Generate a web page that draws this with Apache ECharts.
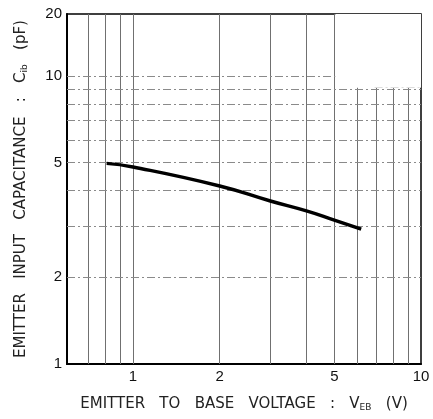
<!DOCTYPE html>
<html>
<head>
<meta charset="utf-8">
<script src="https://cdn.jsdelivr.net/npm/echarts@6/dist/echarts.min.js"></script>
<style>
  html, body { margin: 0; padding: 0; background: #fff; }
  #chart { width: 433px; height: 419px; }
</style>
</head>
<body>
<div id="chart"></div>
<script>
// Emitter input capacitance vs emitter-to-base voltage (log-log)
const vebVolts = [0.81, 1, 2, 3, 4, 5, 6.2];
const cibPf    = [4.97, 4.83, 4.15, 3.68, 3.40, 3.16, 2.94];

// Axis extents and tick labels
const xRange = [0.59, 10];
const yRange = [1, 16.4];
const xTickValues = [1, 2, 5, 10];
const xTickLabels = ['1', '2', '5', '10'];
const yTickValues = [1, 2, 5, 10, 16.4];
const yTickLabels = ['1', '2', '5', '10', '20'];

// Grid lines of the log paper
const xGridValues = [0.7, 0.8, 0.9, 1, 2, 3, 4, 5, 6, 7, 8, 9];
const yGridValues = [2, 3, 4, 5, 6, 7, 8, 9, 10];

// Measurement conditions box
const conditionNames  = ['T{s|a}', 'f', 'I{s|E}'];
const conditionValues = ['25°C', '1MHz', '0A'];
const conditionBox = [[5.04, 9.1], [10, 16.4]];
const conditionBoxEdge = [[6.9, 9.1], [10, 9.1]];

const FONT = '"Liberation Sans", Arial, sans-serif';
const TITLE_FONT = '"DejaVu Sans", sans-serif';

function lookupLabel(values, labels, v) {
  for (let i = 0; i < values.length; i++) {
    if (Math.abs(values[i] - v) < 1e-6 * Math.max(1, values[i])) return labels[i];
  }
  return '';
}

const gridLineData = []
  .concat(xGridValues.map(v => ({ xAxis: v, lineStyle: { color: '#707070', width: 1, type: 'solid' } })))
  .concat(yGridValues.map(v => ({ yAxis: v, lineStyle: { color: '#8a8a8a', width: 1, type: [8, 3, 2, 3] } })));
gridLineData.push([
  { coord: conditionBoxEdge[0], lineStyle: { color: '#777', width: 1, type: [8, 3, 2, 3] } },
  { coord: conditionBoxEdge[1] }
]);

const titleStyle = {
  fontFamily: TITLE_FONT, fontSize: 15, color: '#222',
  rich: { sub: { fontFamily: TITLE_FONT, fontSize: 9, color: '#222', padding: [7, 0, 0, 0] } }
};

const chart = echarts.init(document.getElementById('chart'));

const option = {
  animation: false,
  backgroundColor: '#fff',
  grid: {
    left: 67, right: 12, top: 14, bottom: 55,
    show: true, borderColor: '#000', borderWidth: 1.5, backgroundColor: 'transparent'
  },
  xAxis: {
    type: 'log',
    logBase: 10,
    min: xRange[0],
    max: xRange[1],
    name: 'EMITTER   TO   BASE   VOLTAGE   :   V{sub|EB}   (V)',
    nameLocation: 'middle',
    nameGap: 32,
    nameTextStyle: titleStyle,
    axisLine: { show: true, lineStyle: { color: '#000', width: 2 } },
    axisTick: { show: false },
    splitLine: { show: false },
    minorTick: { show: false },
    minorSplitLine: { show: false },
    axisLabel: {
      customValues: xTickValues,
      margin: 5,
      fontFamily: FONT, fontSize: 15, color: '#111',
      formatter: v => lookupLabel(xTickValues, xTickLabels, v)
    }
  },
  yAxis: {
    type: 'log',
    logBase: 10,
    min: yRange[0],
    max: yRange[1],
    name: 'EMITTER   INPUT   CAPACITANCE   :   C{sub|ib}   (pF)',
    nameLocation: 'middle',
    nameGap: 38,
    nameRotate: 90,
    nameTextStyle: titleStyle,
    axisLine: { show: true, lineStyle: { color: '#000', width: 2 } },
    axisTick: { show: false },
    splitLine: { show: false },
    minorTick: { show: false },
    minorSplitLine: { show: false },
    axisLabel: {
      customValues: yTickValues,
      margin: 5,
      fontFamily: FONT, fontSize: 15, color: '#111',
      formatter: v => lookupLabel(yTickValues, yTickLabels, v)
    }
  },
  graphic: conditionNames.map((n, i) => ({
    type: 'group',
    left: 342,
    top: 27 + i * 18,
    z: 10,
    children: [
      {
        type: 'text', x: 0, y: 0,
        style: {
          text: n, font: '13px ' + FONT, fill: '#111',
          rich: { s: { fontSize: 8, fontFamily: FONT, fill: '#111', padding: [5, 0, 0, 0] } }
        }
      },
      {
        type: 'text', x: i === 1 ? 32 : 37, y: 0,
        style: { text: conditionValues[i], font: '13px ' + FONT, fill: '#111' }
      }
    ]
  })),
  series: [
    {
      // log-paper grid
      type: 'line',
      data: [],
      silent: true,
      markLine: {
        silent: true,
        z: 1,
        symbol: ['none', 'none'],
        label: { show: false },
        emphasis: { disabled: true },
        data: gridLineData
      }
    },
    {
      // blank area holding the measurement conditions
      type: 'line',
      data: [],
      silent: true,
      markArea: {
        silent: true,
        z: 2,
        itemStyle: { color: '#fff', opacity: 1 },
        label: { show: false },
        data: [[{ coord: conditionBox[0] }, { coord: conditionBox[1] }]]
      }
    },
    {
      type: 'line',
      z: 5,
      smooth: true,
      showSymbol: false,
      symbol: 'none',
      lineStyle: { color: '#000', width: 3.5 },
      data: vebVolts.map((v, i) => [v, cibPf[i]])
    }
  ]
};

chart.setOption(option);
</script>
</body>
</html>
